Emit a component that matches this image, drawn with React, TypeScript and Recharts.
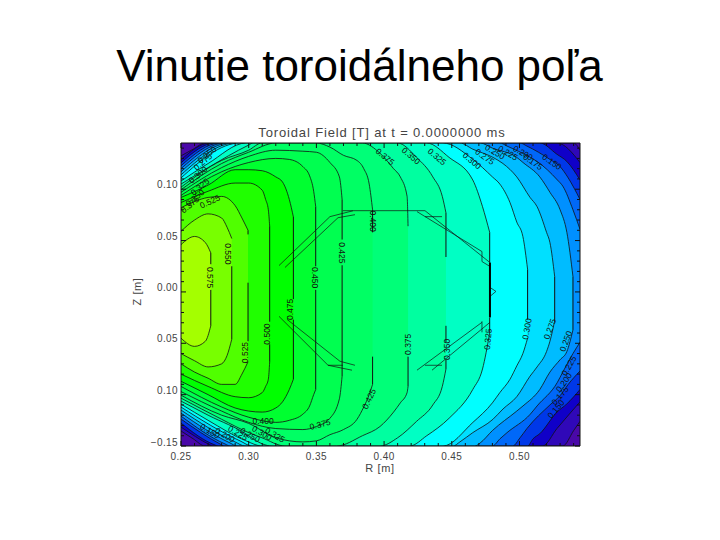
import React from "react";
import { ComposedChart, Area, Line, Scatter, XAxis, YAxis } from "recharts";

type Row = [number, number, number];

// Each row: R, lower contour Z, upper contour Z
const level125: Row[] = [[0.25,-0.1354,0.1325],[0.259,-0.143,0.139],[0.2677,-0.15,0.145],[0.532,-0.15,0.145],[0.54,-0.135,0.145],[0.5447,-0.126,0.138]];
const level150: Row[] = [[0.25,-0.1316,0.1286],[0.2714,-0.149,0.145],[0.2729,-0.15,0.145],[0.517,-0.15,0.145],[0.5277,-0.133,0.145],[0.5447,-0.107,0.126]];
const level175: Row[] = [[0.25,-0.1277,0.1257],[0.2751,-0.149,0.145],[0.2773,-0.15,0.145],[0.506,-0.15,0.145],[0.51,-0.143,0.145],[0.515,-0.138,0.145],[0.5277,-0.117,0.134],[0.535,-0.109,0.127],[0.5447,-0.095,0.109]];
const level200: Row[] = [[0.25,-0.1238,0.1228],[0.2788,-0.148,0.145],[0.2818,-0.15,0.145],[0.495,-0.15,0.145],[0.5004,-0.142,0.145],[0.5055,-0.133,0.142],[0.5225,-0.11,0.129],[0.53,-0.101,0.122],[0.536,-0.09,0.111],[0.5447,-0.077,0.09]];
const level225: Row[] = [[0.25,-0.1209,0.12],[0.2825,-0.148,0.145],[0.2862,-0.15,0.145],[0.48,-0.15,0.145],[0.4856,-0.143,0.145],[0.4908,-0.137,0.142],[0.508,-0.119,0.131],[0.513,-0.111,0.127],[0.528,-0.088,0.109],[0.532,-0.078,0.103],[0.5395,-0.06,0.08],[0.5447,-0.049,0.061]];
const level250: Row[] = [[0.25,-0.118,0.117],[0.2862,-0.147,0.145],[0.2914,-0.15,0.145],[0.467,-0.15,0.145],[0.471,-0.147,0.145],[0.48,-0.135,0.14],[0.498,-0.116,0.131],[0.5026,-0.111,0.126],[0.515,-0.095,0.112],[0.5225,-0.078,0.097],[0.53,-0.066,0.08],[0.535,-0.058,0.058],[0.5395,-0.037,0.015]];
const level275: Row[] = [[0.25,-0.115,0.114],[0.2899,-0.146,0.145],[0.2973,-0.15,0.145],[0.451,-0.15,0.145],[0.456,-0.146,0.145],[0.4655,-0.137,0.139],[0.4804,-0.124,0.131],[0.4878,-0.114,0.125],[0.498,-0.102,0.112],[0.5078,-0.082,0.092],[0.513,-0.073,0.083],[0.52,-0.058,0.058],[0.5225,-0.048,0.048],[0.526,-0.028,0.015]];
const level300: Row[] = [[0.25,-0.1121,0.111],[0.2936,-0.145,0.145],[0.3024,-0.15,0.145],[0.441,-0.15,0.145],[0.4435,-0.15,0.145],[0.4656,-0.127,0.129],[0.48,-0.108,0.112],[0.4855,-0.098,0.105],[0.493,-0.085,0.087],[0.498,-0.072,0.068],[0.5025,-0.06,0.054],[0.506,-0.045,0.022]];
const level325: Row[] = [[0.25,-0.1092,0.108],[0.27,-0.125,0.125],[0.298,-0.145,0.145],[0.3098,-0.15,0.145],[0.419,-0.15,0.145],[0.4315,-0.14,0.145],[0.448,-0.123,0.131],[0.4655,-0.095,0.109],[0.4727,-0.075,0.083],[0.478,-0.04,0.058]];
const level350: Row[] = [[0.25,-0.1063,0.105],[0.27,-0.12,0.121],[0.3,-0.14,0.143],[0.3032,-0.143,0.145],[0.3172,-0.15,0.145],[0.397,-0.15,0.145],[0.41,-0.142,0.145],[0.424,-0.126,0.131],[0.436,-0.11,0.112],[0.443,-0.092,0.093],[0.4457,-0.075,0.077]];
const level375: Row[] = [[0.25,-0.1034,0.102],[0.28,-0.124,0.128],[0.3,-0.137,0.138],[0.3098,-0.142,0.145],[0.3268,-0.15,0.145],[0.365,-0.15,0.145],[0.384,-0.14,0.145],[0.397,-0.131,0.135],[0.407,-0.117,0.12],[0.412,-0.108,0.112],[0.417,-0.098,0.093],[0.4177,-0.092,0.064]];
const level400: Row[] = [[0.25,-0.1005,0.0995],[0.28,-0.12,0.125],[0.3,-0.128,0.136],[0.32,-0.142,0.145],[0.34,-0.146,0.145],[0.35,-0.145,0.145],[0.36,-0.139,0.141],[0.37,-0.134,0.133],[0.38,-0.124,0.128],[0.385,-0.112,0.12],[0.389,-0.1,0.105],[0.3915,-0.09,0.08]];
const level425: Row[] = [[0.25,-0.097,0.097],[0.28,-0.116,0.121],[0.3,-0.127,0.132],[0.32,-0.133,0.138],[0.34,-0.134,0.137],[0.35,-0.131,0.136],[0.36,-0.123,0.126],[0.367,-0.104,0.112],[0.369,-0.082,0.09]];
const level450: Row[] = [[0.25,-0.092,0.094],[0.28,-0.112,0.117],[0.3,-0.122,0.126],[0.32,-0.127,0.13],[0.33,-0.125,0.129],[0.34,-0.119,0.122],[0.345,-0.111,0.113],[0.348,-0.1,0.098],[0.3495,-0.095,0.083]];
const level475: Row[] = [[0.25,-0.087,0.092],[0.27,-0.1,0.104],[0.29,-0.113,0.119],[0.3,-0.116,0.119],[0.31,-0.117,0.118],[0.32,-0.113,0.112],[0.325,-0.107,0.107],[0.33,-0.095,0.09],[0.333,-0.085,0.073]];
const level500: Row[] = [[0.25,-0.08,0.087],[0.27,-0.092,0.098],[0.29,-0.102,0.106],[0.3,-0.103,0.106],[0.31,-0.098,0.099],[0.3125,-0.092,0.09],[0.3145,-0.085,0.08],[0.3155,-0.068,0.064]];
const level525: Row[] = [[0.25,-0.07,0.082],[0.26,-0.078,0.088],[0.27,-0.084,0.092],[0.28,-0.09,0.093],[0.29,-0.09,0.084],[0.295,-0.08,0.072],[0.2995,-0.068,0.06]];
const level550: Row[] = [[0.25,-0.06,0.059],[0.26,-0.067,0.07],[0.27,-0.073,0.076],[0.28,-0.07,0.072],[0.284,-0.062,0.063],[0.2875,-0.046,0.052]];
const level575: Row[] = [[0.25,-0.045,0.046],[0.26,-0.053,0.054],[0.268,-0.048,0.048],[0.272,-0.033,0.038]];

const levelRows = [level125,level150,level175,level200,level225,level250,level275,level300,level325,level350,level375,level400,level425,level450,level475,level500,level525,level550,level575];
const levelColors = ["#3008b8","#1000c8","#0038e8","#0068f8","#0090ff","#00bcff","#00e0ff","#00ffff","#00ffc4","#00ffa0","#00ff78","#00ff64","#00ff50","#00ff30","#00ff00","#20ff00","#50ff00","#78ff00","#a4ff00"];

// Straight middle parts of the contours: R, then pairs of Z from and to
const straightParts: [number, number[]][] = [
  [0.272,[0.038,0.027,0.002,-0.033]],
  [0.2875,[0.025,-0.046]],
  [0.2995,[0.06,0.056,0.009,-0.048]],
  [0.3155,[0.064,-0.029,-0.051,-0.068]],
  [0.333,[0.073,-0.007,-0.027,-0.085]],
  [0.3495,[0.083,0.025,0.002,-0.095]],
  [0.369,[0.09,0.051,0.026,-0.082]],
  [0.3915,[0.08,0.058,-0.063,-0.09]],
  [0.4177,[-0.063,-0.092]],
  [0.4457,[0.077,0.034,-0.033,-0.049,-0.066,-0.075]],
  [0.478,[0.058,0.0286,-0.025,-0.04]],
  [0.506,[0.022,-0.027]],
  [0.526,[0.015,-0.028]],
  [0.5395,[0.015,-0.037]],
];

// Limiter / coil outline, polylines of [R, Z]
const coilPaths: [number, number][][] = [
  [[0.3224,0.0257],[0.36,0.0733],[0.377,0.079]],
  [[0.3268,0.0238],[0.366,0.0723],[0.3785,0.0752]],
  [[0.3696,0.0791],[0.4302,0.0791],[0.4782,0.0286]],
  [[0.4243,0.0782],[0.4723,0.0393],[0.4723,0.0296],[0.4782,0.0248]],
  [[0.4302,0.0733],[0.4428,0.0733]],
  [[0.4782,-0.0296],[0.4354,-0.0762]],
  [[0.4723,-0.0286],[0.4723,-0.0393]],
  [[0.4723,-0.0296],[0.4243,-0.0762]],
  [[0.4302,-0.0714],[0.4428,-0.0714]],
  [[0.3224,-0.0238],[0.3586,-0.0714],[0.3763,-0.0762]],
  [[0.3283,-0.0267],[0.3674,-0.0675],[0.3785,-0.0714]],
  [[0.3586,-0.0714],[0.3696,-0.0714]],
  [[0.4782,0.0044],[0.4826,0.0005],[0.4782,-0.0044]],
];
const coilThick: [number, number][] = [[0.4782,0.0286],[0.4782,-0.0248]];

const contourLabels: [number, number, string, number][] = [
  [0.2714,0.014,"0.575",90],[0.2847,0.037,"0.550",90],[0.2714,0.088,"0.525",-25],[0.349,0.014,"0.450",90],[0.369,0.038,"0.425",90],[0.3918,0.069,"0.400",90],
  [0.2973,-0.059,"0.525",-90],[0.3135,-0.041,"0.500",-90],[0.3305,-0.017,"0.475",-90],[0.4177,-0.051,"0.375",-90],[0.4465,-0.056,"0.350",-90],[0.4767,-0.046,"0.325",-85],
  [0.5055,-0.036,"0.300",-80],[0.5225,-0.036,"0.275",-70],[0.5343,-0.048,"0.250",-70],[0.5365,-0.072,"0.225",-60],[0.5329,-0.088,"0.200",-55],[0.53,-0.101,"0.175",-50],[0.527,-0.114,"0.150",-50],
  [0.3888,-0.104,"0.425",-65],[0.3106,-0.126,"0.400",0],[0.3527,-0.129,"0.375",-15],
  [0.4007,0.1316,"0.375",40],[0.4199,0.1325,"0.350",40],[0.4391,0.1316,"0.325",40],[0.4649,0.1277,"0.300",40],[0.4745,0.1316,"0.275",35],[0.4819,0.1364,"0.250",30],[0.4915,0.1354,"0.225",30],[0.5026,0.1354,"0.200",30],[0.51,0.1267,"0.175",35],[0.524,0.1267,"0.150",35],
  [0.2692,0.1335,"0.250",-40],[0.2662,0.1267,"0.275",-40],[0.2626,0.114,"0.300",-40],[0.264,0.1024,"0.325",-40],[0.2603,0.0917,"0.350",-40],[0.2566,0.085,"0.375",-40],
  [0.2714,-0.1354,"0.150",30],[0.2825,-0.1393,"0.200",30],[0.2921,-0.1374,"0.225",30],[0.301,-0.1393,"0.250",30],[0.3098,-0.1374,"0.300",30],[0.3194,-0.1393,"0.325",30],
];

const xTicks = [0.25,0.26,0.27,0.28,0.29,0.3,0.31,0.32,0.33,0.34,0.35,0.36,0.37,0.38,0.39,0.4,0.41,0.42,0.43,0.44,0.45,0.46,0.47,0.48,0.49,0.5,0.51,0.52,0.53,0.54];
const xMajor = [0.25,0.3,0.35,0.4,0.45,0.5];
const yTicks = [-0.15,-0.14,-0.13,-0.12,-0.11,-0.1,-0.09,-0.08,-0.07,-0.06,-0.05,-0.04,-0.03,-0.02,-0.01,0,0.01,0.02,0.03,0.04,0.05,0.06,0.07,0.08,0.09,0.1,0.11,0.12,0.13,0.14];
const yMajor = [-0.15,-0.1,-0.05,0,0.05,0.1];
const yMajorText = ["\u22120.15","0.10","0.05","0.00","0.05","0.10"];
const title = "Vinutie toroidálneho poľa";
const plotTitle = "Toroidal Field [T] at t = 0.0000000 ms";
const xName = "R [m]";
const yName = "Z [m]";

const textFont = "'Liberation Sans', Arial, sans-serif";
const near = (a: number, b: number) => Math.abs(a - b) < 1e-6;

const tickX = (side: "bottom" | "top") => (p: any) => {
  const major = xMajor.some((m) => near(m, p.payload.value));
  const len = major ? 5 : 3;
  const d = side === "bottom" ? -len : len;
  return (
    <g>
      <line x1={p.x} x2={p.x} y1={p.y} y2={p.y + d} stroke="#111" strokeWidth={1} />
      {major && side === "bottom" ? (
        <text x={p.x} y={p.y + 14} textAnchor="middle" fontSize={10} fontFamily={textFont} fill="#444" letterSpacing={0.4}>
          {p.payload.value.toFixed(2)}
        </text>
      ) : null}
    </g>
  );
};

const tickY = (side: "left" | "right") => (p: any) => {
  const idx = yMajor.findIndex((m) => near(m, p.payload.value));
  const len = idx >= 0 ? 5 : 3;
  const d = side === "left" ? len : -len;
  return (
    <g>
      <line x1={p.x} x2={p.x + d} y1={p.y} y2={p.y} stroke="#111" strokeWidth={1} />
      {idx >= 0 && side === "left" ? (
        <text x={p.x - 3} y={p.y + (idx === 0 ? 0 : -1)} textAnchor="end" fontSize={10} fontFamily={textFont} fill="#444" letterSpacing={0.4}>
          {yMajorText[idx]}
        </text>
      ) : null}
    </g>
  );
};

const LabelShape = (p: any) => {
  const row = p.payload;
  return (
    <text
      x={p.cx}
      y={p.cy}
      transform={`rotate(${row.angle} ${p.cx} ${p.cy})`}
      textAnchor="middle"
      dominantBaseline="central"
      fontSize={8.5}
      fontFamily={textFont}
      fill="#111"
    >
      {row.text}
    </text>
  );
};

const areaData = levelRows.map((rows) => rows.map(([r, bot, top]) => ({ r, range: [bot, top] })));
const straightData = straightParts.map(([r, zs]) => {
  const out: { r: number; z: number | null }[] = [];
  for (let i = 0; i < zs.length; i += 2) {
    out.push({ r, z: zs[i] }, { r, z: zs[i + 1] }, { r, z: null });
  }
  return out;
});
const coilData = coilPaths.map((path) => path.map(([r, z]) => ({ r, z })));
const coilThickData = coilThick.map(([r, z]) => ({ r, z }));
const labelData = contourLabels.map(([r, z, text, angle]) => ({ r, z, text, angle }));

export default function App() {
  return (
    <div style={{ position: "absolute", left: 0, top: 0, width: 720, height: 540, background: "#fff", overflow: "hidden" }}>
      <div style={{ position: "absolute", left: 0, width: 719, top: 40, textAlign: "center", fontFamily: textFont, fontSize: 44, lineHeight: "52px", color: "#000", whiteSpace: "nowrap" }}>
        {title}
      </div>
      <div style={{ position: "absolute", left: 182, width: 400, top: 126, textAlign: "center", fontFamily: textFont, fontSize: 13, lineHeight: "14px", letterSpacing: 0.85, color: "#444", whiteSpace: "nowrap" }}>
        {plotTitle}
      </div>
      <div style={{ position: "absolute", left: 180, width: 400, top: 462, textAlign: "center", fontFamily: textFont, fontSize: 11, lineHeight: "13px", letterSpacing: 0.6, color: "#444" }}>
        {xName}
      </div>
      <div style={{ position: "absolute", left: 117, width: 40, top: 285, textAlign: "center", fontFamily: textFont, fontSize: 11, lineHeight: "13px", letterSpacing: 0.6, color: "#444", transform: "rotate(-90deg)", whiteSpace: "nowrap" }}>
        {yName}
      </div>
      <div style={{ position: "absolute", left: 0, top: 0 }}>
        <ComposedChart width={720} height={540} margin={{ top: 142, left: 180, right: 139, bottom: 93 }}>
          <XAxis xAxisId={0} dataKey="r" type="number" domain={[0.25, 0.5447]} ticks={xTicks} interval={0} height={1} tickSize={0} tickMargin={0} tickLine={false} allowDataOverflow stroke="#111" tick={tickX("bottom")} />
          <XAxis xAxisId={1} orientation="top" dataKey="r" type="number" domain={[0.25, 0.5447]} ticks={xTicks} interval={0} height={1} tickSize={0} tickMargin={0} tickLine={false} allowDataOverflow stroke="#111" tick={tickX("top")} />
          <YAxis yAxisId={0} type="number" domain={[-0.15, 0.145]} ticks={yTicks} interval={0} width={1} tickSize={0} tickMargin={0} tickLine={false} allowDataOverflow stroke="#111" tick={tickY("left")} />
          <YAxis yAxisId={1} orientation="right" type="number" domain={[-0.15, 0.145]} ticks={yTicks} interval={0} width={1} tickSize={0} tickMargin={0} tickLine={false} allowDataOverflow stroke="#111" tick={tickY("right")} />
          <Area xAxisId={0} yAxisId={0} data={[{ r: 0.25, range: [-0.15, 0.145] }, { r: 0.5447, range: [-0.15, 0.145] }]} dataKey="range" type="linear" fill="#4a08a8" fillOpacity={1} stroke="none" dot={false} activeDot={false} isAnimationActive={false} />
          {areaData.map((rows, i) => (
            <Area key={i} xAxisId={0} yAxisId={0} data={rows} dataKey="range" type="monotoneX" fill={levelColors[i]} fillOpacity={1} stroke="#111" strokeWidth={0.8} dot={false} activeDot={false} isAnimationActive={false} />
          ))}
          {straightData.map((rows, i) => (
            <Line key={i} xAxisId={0} yAxisId={0} data={rows} dataKey="z" type="linear" stroke="#111" strokeWidth={1} dot={false} activeDot={false} isAnimationActive={false} />
          ))}
          {coilData.map((rows, i) => (
            <Line key={i} xAxisId={0} yAxisId={0} data={rows} dataKey="z" type="linear" stroke="#111" strokeWidth={0.7} dot={false} activeDot={false} isAnimationActive={false} />
          ))}
          <Line xAxisId={0} yAxisId={0} data={coilThickData} dataKey="z" type="linear" stroke="#000" strokeWidth={2} dot={false} activeDot={false} isAnimationActive={false} />
          <Scatter xAxisId={0} yAxisId={0} data={labelData} dataKey="z" shape={LabelShape} isAnimationActive={false} />
        </ComposedChart>
      </div>
    </div>
  );
}
